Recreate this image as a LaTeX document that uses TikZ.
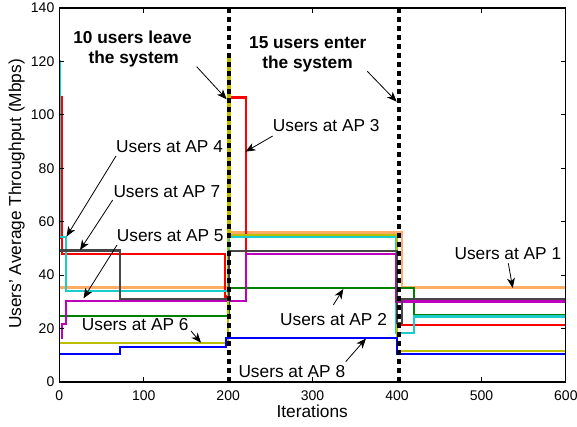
\documentclass[tikz,border=0pt]{standalone}
\usepackage{fontspec}
\setmainfont{Liberation Sans}
\usetikzlibrary{arrows.meta}
\definecolor{apone}{RGB}{255,172,100}
\definecolor{aptwo}{RGB}{0,128,0}
\definecolor{apthree}{RGB}{255,0,0}
\definecolor{apfour}{RGB}{26,204,204}
\definecolor{apfive}{RGB}{190,0,190}
\definecolor{apsix}{RGB}{190,190,0}
\definecolor{apseven}{RGB}{70,70,70}
\definecolor{apeight}{RGB}{0,0,255}
\begin{document}
\begin{tikzpicture}[x=1pt,y=-1pt,
  ticklab/.style={font=\fontsize{14}{16}\selectfont, inner sep=0pt},
  txtlab/.style={font=\fontsize{17.3}{20}\selectfont, inner sep=0pt, anchor=base west},
  boldlab/.style={font=\fontsize{17.3}{20}\selectfont\bfseries, inner sep=0pt, anchor=base},
  annarrow/.style={draw=black, line width=0.8pt, -{Stealth[length=10pt,width=8pt,inset=3pt]}},
  apline/.style={line width=2.2pt, line join=miter},
  vdashline/.style={line width=3.4pt, dash pattern=on 5.5pt off 3.5pt}]
\useasboundingbox (0,0) rectangle (577,426);
\fill[white] (0,0) rectangle (577,426);

% data
\begin{scope}[shift={(59.3pt,-382pt)}, x=0.8443pt, y=2.6714pt]
\draw[apline, apone] (0,35.4) -- (201,35.4) -- (201,56) -- (406,56) -- (406,35.4) -- (600,35.4);
\draw[apline, aptwo] (0,24.8) -- (201,24.8) -- (201,35.2) -- (420,35.2) -- (420,25.2) -- (600,25.2);
\draw[apline, apthree] (0,54) -- (3,54) -- (3,106.5) -- (3.6,106.5) -- (3.6,48) -- (196,48) -- (196,32) -- (201,32) -- (201,106.5) -- (221,106.5) -- (221,48) -- (399,48) -- (399,21.3) -- (600,21.3);
\draw[apline, apfour] (0.6,120.5) -- (0.6,54.4) -- (8,54.4) -- (8,34.2) -- (201,34.2) -- (201,54.2) -- (399,54.2) -- (399,18.3) -- (420,18.3) -- (420,24.5) -- (600,24.5);
\draw[apline, apfive] (2.8,16) -- (2.8,21.7) -- (8,21.7) -- (8,30.3) -- (221,30.3) -- (221,47.8) -- (398.5,47.8) -- (398.5,30.1) -- (600,30.1);
\draw[apline, apsix] (0,14.5) -- (199.5,14.5) -- (199.5,122) -- (202,122) -- (202,55) -- (399.5,55) -- (399.5,11.7) -- (600,11.7);
\draw[apline, apseven] (0.5,49.2) -- (72,49.2) -- (72,31.1) -- (201,31.1) -- (201,49) -- (399.5,49) -- (399.5,22) -- (406,22) -- (406,31.1) -- (600,31.1);
\draw[apline, apeight] (0,10.4) -- (72,10.4) -- (72,13) -- (197.5,13) -- (197.5,16.4) -- (400,16.4) -- (400,10.4) -- (600,10.4);
\draw[vdashline] (201,0) -- (201,140);
\draw[vdashline] (402.5,0) -- (402.5,140);
\end{scope}

% axes box and ticks
\draw[line width=1.2pt] (59.3,8) rectangle (565.7,382);
\foreach \v in {100,200,...,500} {
  \draw[line width=0.8pt] ({59.3+\v*0.8443},382) -- ++(0,-5);
  \draw[line width=0.8pt] ({59.3+\v*0.8443},8) -- ++(0,5);
}
\foreach \v in {20,40,...,120} {
  \draw[line width=0.8pt] (59.3,{382-\v*2.6714}) -- ++(5,0);
  \draw[line width=0.8pt] (565.7,{382-\v*2.6714}) -- ++(-5,0);
}
\foreach \v in {0,20,...,140}
  \node[ticklab, anchor=east] (yl\v) at (54.5,{382-\v*2.6714}) {\v};
\foreach \v in {0,100,...,600}
  \node[ticklab, anchor=base] (xl\v) at ({59.3+\v*0.8443},400.8) {\v};

\node[font=\fontsize{17.3}{20}\selectfont, inner sep=0pt, anchor=base] (xlabel) at (312.2,417) {Iterations};
\node[font=\fontsize{17.3}{20}\selectfont, inner sep=0pt, anchor=base, rotate=90] (ylabel) at (21,194) {Users' Average Throughput (Mbps)};

% bold annotations
\node[boldlab] (leave1) at (132.5,43.5) {10 users leave};
\node[boldlab] (leave2) at (133.7,63.5) {the system};
\node[boldlab] (enter1) at (307.8,48) {15 users enter};
\node[boldlab] (enter2) at (307.5,68) {the system};
\coordinate (la) at (196.7,66.7);
\coordinate (lb) at (226.7,99.3);
\coordinate (ea) at (367.3,71.3);
\coordinate (eb) at (396.7,101.7);
\draw[annarrow] (la) -- (lb);
\draw[annarrow] (ea) -- (eb);

% AP labels
\node[txtlab] (t3) at (272.7,131.5) {Users at AP 3};
\node[txtlab] (t4) at (116,152.3) {Users at AP 4};
\node[txtlab] (t7) at (113.3,197.3) {Users at AP 7};
\node[txtlab] (t5) at (116.7,241.7) {Users at AP 5};
\node[txtlab] (t6) at (81.7,330) {Users at AP 6};
\node[txtlab] (t2) at (280,325) {Users at AP 2};
\node[txtlab] (t8) at (238.3,377.3) {Users at AP 8};
\node[txtlab] (t1) at (454.3,259.3) {Users at AP 1};

\coordinate (s3) at (272.7,136);   \coordinate (e3) at (245.5,151.7);
\coordinate (s4) at (116,156);     \coordinate (e4) at (66.5,236.5);
\coordinate (s7) at (112.7,200);   \coordinate (e7) at (80,250);
\coordinate (s5) at (117,245);     \coordinate (e5) at (83.5,298.3);
\coordinate (s6) at (191,331);     \coordinate (e6) at (201,342.7);
\coordinate (s2) at (333.3,305);   \coordinate (e2) at (343.3,289);
\coordinate (s8) at (345.7,361.7); \coordinate (e8) at (366,338.5);
\coordinate (s1) at (508.3,263.3); \coordinate (e1) at (512.7,288);
\foreach \k in {1,...,8} \draw[annarrow] (s\k) -- (e\k);
\end{tikzpicture}
\end{document}
